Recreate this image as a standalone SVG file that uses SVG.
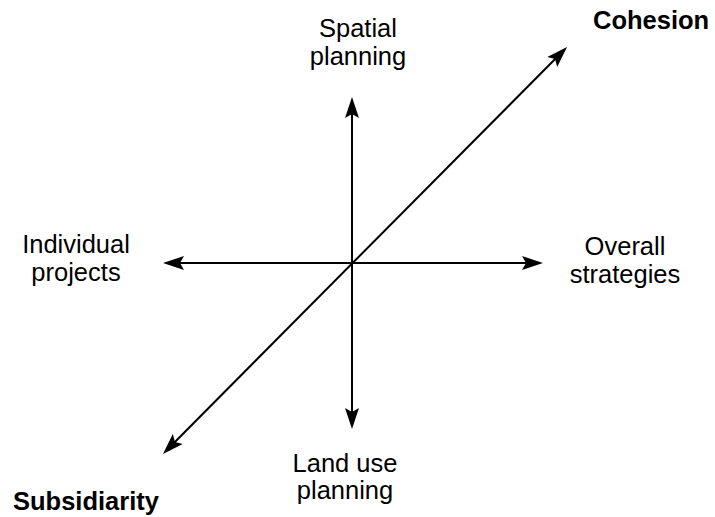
<svg xmlns="http://www.w3.org/2000/svg" width="715" height="517" viewBox="0 0 715 517">
<style>
.lbl{font-family:"Liberation Sans",Arial,Helvetica,sans-serif;font-size:25.5px;fill:#000;text-anchor:middle}
.b{font-weight:bold;text-anchor:start}
.ax{stroke:#000;stroke-width:2;fill:none;marker-start:url(#ah);marker-end:url(#ah)}
</style>
<defs>
<marker id="ah" markerUnits="userSpaceOnUse" orient="auto-start-reverse" overflow="visible" markerWidth="1" markerHeight="1" refX="0" refY="0">
<path d="M6,0 L-15,-7 L-11,0 L-15,7 Z" fill="#000"/>
</marker>
</defs>
<rect width="715" height="517" fill="#fff"/>
<g id="connectors">
<line class="ax" x1="352" y1="103" x2="352" y2="423"/>
<line class="ax" x1="169" y1="263" x2="537" y2="263"/>
<line class="ax" x1="167.2" y1="449.7" x2="562.8" y2="51.3"/>
</g>
<g id="spatial"><text class="lbl" x="358" y="37">Spatial</text><text class="lbl" x="358" y="65">planning</text></g>
<g id="cohesion"><text class="lbl b" x="593" y="29">Cohesion</text></g>
<g id="individual"><text class="lbl" x="76" y="253">Individual</text><text class="lbl" x="76" y="281">projects</text></g>
<g id="overall"><text class="lbl" x="625" y="255">Overall</text><text class="lbl" x="625" y="283">strategies</text></g>
<g id="landuse"><text class="lbl" x="345" y="472">Land use</text><text class="lbl" x="345" y="499">planning</text></g>
<g id="subsidiarity"><text class="lbl b" x="13" y="510">Subsidiarity</text></g>
</svg>
